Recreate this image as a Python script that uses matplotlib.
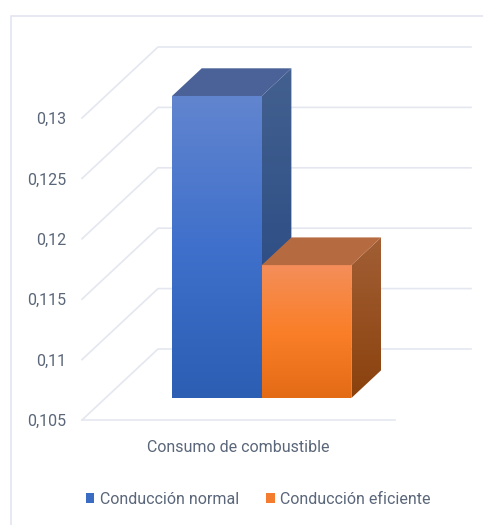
"""Columnas 3D de consumo de combustible, dibujadas en proyeccion oblicua."""

import matplotlib
matplotlib.use("Agg")
import matplotlib.pyplot as plt
import numpy as np
from matplotlib.colors import LinearSegmentedColormap
from matplotlib.patches import Patch, Polygon

category = "Consumo de combustible"
series_names = ["Conducción normal", "Conducción eficiente"]
series_values = [0.13, 0.116]
tick_values = [0.105, 0.11, 0.115, 0.12, 0.125, 0.13]
tick_labels = ["0,105", "0,11", "0,115", "0,12", "0,125", "0,13"]

plt.rcParams["font.family"] = ["Roboto", "DejaVu Sans"]

W, H = 483, 525
PLOT_LEFT, PLOT_W = 82, 313      # frente del suelo, px
BASE_Y, PX_PER_UNIT = 420, 60.4 / 0.005
FONT_SIZE = 11.5

GRID = "#e4e7f0"
TEXT = "#5a6679"

# desplazamiento de profundidad del suelo en unidades de datos
DEPTH_X = 76 / PLOT_W
DEPTH_Y = 71 / PX_PER_UNIT
BAR_FRONT, BAR_BACK = 0.31, 0.70
BAR_LEFT, BAR_W = 0.2125, 0.2865

FRONT = [["#6285cf", "#3f70cb", "#2c5eb4"], ["#f48e5a", "#fa7f28", "#e46b16"]]
SIDE = [["#43608f", "#214480"], ["#a25f35", "#8a410d"]]
TOP = ["#4a6298", "#b56a3f"]
LEGEND = ["#3a6cc4", "#f37c2e"]


def fill_gradient(ax, verts, colors):
    """Rellena un poligono con un degradado vertical recortado a su forma."""
    xs, ys = zip(*verts)
    cmap = LinearSegmentedColormap.from_list("g", colors)
    img = ax.imshow(
        np.linspace(0, 1, 256).reshape(-1, 1), cmap=cmap, aspect="auto",
        origin="upper", extent=(min(xs), max(xs), min(ys), max(ys)), zorder=3,
    )
    img.set_clip_path(Polygon(verts, closed=True, transform=ax.transData))


def main():
    fig = plt.figure(figsize=(W / 100, H / 100), dpi=100)
    ax = fig.add_axes([0, 0, 1, 1])
    ax.set_xlim(-PLOT_LEFT / PLOT_W, (W - PLOT_LEFT) / PLOT_W)
    ax.set_ylim(tick_values[0] - (H - BASE_Y) / PX_PER_UNIT,
                tick_values[0] + BASE_Y / PX_PER_UNIT)
    ax.axis("off")

    # marco exterior del grafico
    ax.plot([11 / W, 11 / W, 1], [0, 1 - 16 / H, 1 - 16 / H], color=GRID,
            lw=1.3, transform=ax.transAxes, zorder=1)

    # pared del fondo y suelo
    for v, lab in zip(tick_values, tick_labels):
        ax.plot([0, DEPTH_X, 1 + DEPTH_X], [v, v + DEPTH_Y, v + DEPTH_Y],
                color=GRID, lw=1.2, zorder=1)
        ax.text(-16 / PLOT_W, v, lab, ha="right", va="center_baseline",
                color=TEXT, fontsize=FONT_SIZE)
    ax.plot([0, 1], [tick_values[0]] * 2, color=GRID, lw=1.2, zorder=1)

    ox, oy = DEPTH_X, DEPTH_Y
    floor = tick_values[0]
    for i, val in enumerate(series_values):
        x0 = BAR_LEFT + i * BAR_W
        x1 = x0 + BAR_W
        fx0, fx1 = x0 + BAR_FRONT * ox, x1 + BAR_FRONT * ox
        bx0, bx1 = x0 + BAR_BACK * ox, x1 + BAR_BACK * ox
        fy0, by0 = floor + BAR_FRONT * oy, floor + BAR_BACK * oy
        fy1, by1 = val + BAR_FRONT * oy, val + BAR_BACK * oy

        fill_gradient(ax, [(fx1, fy0), (bx1, by0), (bx1, by1), (fx1, fy1)], SIDE[i])
        ax.add_patch(Polygon([(fx0, fy1), (fx1, fy1), (bx1, by1), (bx0, by1)],
                             closed=True, fc=TOP[i], ec="none", zorder=3.5))
        fill_gradient(ax, [(fx0, fy0), (fx1, fy0), (fx1, fy1), (fx0, fy1)], FRONT[i])

    ax.text(238 / W, 1 - 447 / H, category, transform=ax.transAxes,
            ha="center", va="center", color=TEXT, fontsize=FONT_SIZE)

    handles = [Patch(fc=c, ec="none") for c in LEGEND]
    ax.legend(handles, series_names, ncol=2, frameon=False, fontsize=FONT_SIZE,
              labelcolor=TEXT, loc="center", bbox_to_anchor=(258 / W, 1 - 499 / H),
              handlelength=0.56, handleheight=0.56, handletextpad=0.32,
              columnspacing=1.7)

    fig.savefig("out.png", dpi=100)


if __name__ == "__main__":
    main()
